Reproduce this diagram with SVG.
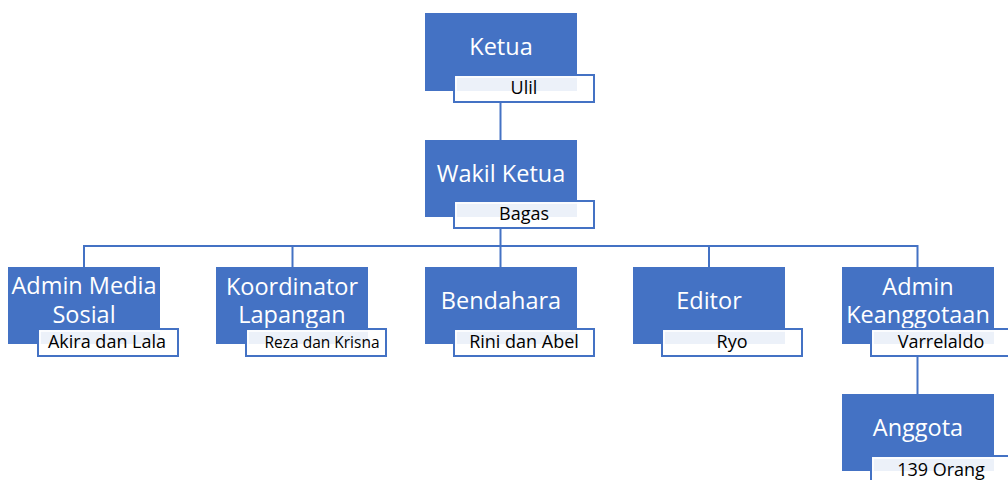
<svg xmlns="http://www.w3.org/2000/svg" width="1008" height="480" viewBox="0 0 1008 480">
<style>
.box{fill:#4472C4;}
.lbl{fill:#ffffff;fill-opacity:0.9;stroke:#4472C4;stroke-width:2;}
.lin{fill:none;stroke:#ffffff;stroke-width:1.5;}
.t{font-family:"Open Sans","Noto Sans",sans-serif;font-size:23.5px;fill:#ffffff;text-anchor:middle;}
.s{font-family:"Open Sans","Noto Sans",sans-serif;font-size:18px;fill:#000000;text-anchor:middle;}
.c{fill:none;stroke:#4472C4;stroke-width:2;}
</style>
<rect width="1008" height="480" fill="#ffffff"/>
<g id="connectors">
<path class="c" d="M500.5 102 V140"/>
<path class="c" d="M500.5 228 V246"/>
<path class="c" d="M84 267 V246 H917.5 V267"/>
<path class="c" d="M292.5 246 V267"/>
<path class="c" d="M500.5 246 V267"/>
<path class="c" d="M709 246 V267"/>
<path class="c" d="M917.5 355 V394"/>
</g>
<g id="ketua">
<rect class="box" x="425" y="13" width="152" height="78"/>
<text class="t" x="501" y="55">Ketua</text>
<rect class="lbl" x="454" y="75" width="140" height="27"/>
<rect class="lin" x="456" y="77" width="136" height="23"/>
<text class="s" x="524" y="94">Ulil</text>
</g>
<g id="wakil">
<rect class="box" x="425" y="140" width="152" height="77"/>
<text class="t" x="501" y="182">Wakil Ketua</text>
<rect class="lbl" x="454" y="201" width="140" height="27"/>
<rect class="lin" x="456" y="203" width="136" height="23"/>
<text class="s" x="524" y="220">Bagas</text>
</g>
<g id="admin-media">
<rect class="box" x="8" y="267" width="152" height="77"/>
<text class="t" x="84" y="294">Admin Media</text>
<text class="t" x="84" y="323">Sosial</text>
<rect class="lbl" x="38" y="329" width="140" height="27"/>
<rect class="lin" x="40" y="331" width="136" height="23"/>
<text class="s" x="107" y="348">Akira dan Lala</text>
</g>
<g id="koordinator">
<rect class="box" x="216" y="267" width="152" height="77"/>
<text class="t" x="292" y="295">Koordinator</text>
<text class="t" x="292" y="323">Lapangan</text>
<rect class="lbl" x="246" y="329" width="140" height="27"/>
<rect class="lin" x="248" y="331" width="136" height="23"/>
<text class="s" x="322" y="348" style="font-size:15.5px">Reza dan Krisna</text>
</g>
<g id="bendahara">
<rect class="box" x="425" y="267" width="152" height="77"/>
<text class="t" x="501" y="309">Bendahara</text>
<rect class="lbl" x="454" y="329" width="140" height="27"/>
<rect class="lin" x="456" y="331" width="136" height="23"/>
<text class="s" x="524" y="348">Rini dan Abel</text>
</g>
<g id="editor">
<rect class="box" x="633" y="267" width="152" height="77"/>
<text class="t" x="709" y="309">Editor</text>
<rect class="lbl" x="662" y="329" width="140" height="27"/>
<rect class="lin" x="664" y="331" width="136" height="23"/>
<text class="s" x="732" y="348">Ryo</text>
</g>
<g id="admin-keanggotaan">
<rect class="box" x="842" y="267" width="152" height="77"/>
<text class="t" x="918" y="295">Admin</text>
<text class="t" x="918" y="323">Keanggotaan</text>
<rect class="lbl" x="871" y="329" width="140" height="27"/>
<rect class="lin" x="873" y="331" width="136" height="23"/>
<text class="s" x="941" y="348">Varrelaldo</text>
</g>
<g id="anggota">
<rect class="box" x="842" y="394" width="152" height="77"/>
<text class="t" x="918" y="436">Anggota</text>
<rect class="lbl" x="871" y="456" width="140" height="27"/>
<rect class="lin" x="873" y="458" width="136" height="23"/>
<text class="s" x="941" y="476">139 Orang</text>
</g>
</svg>
